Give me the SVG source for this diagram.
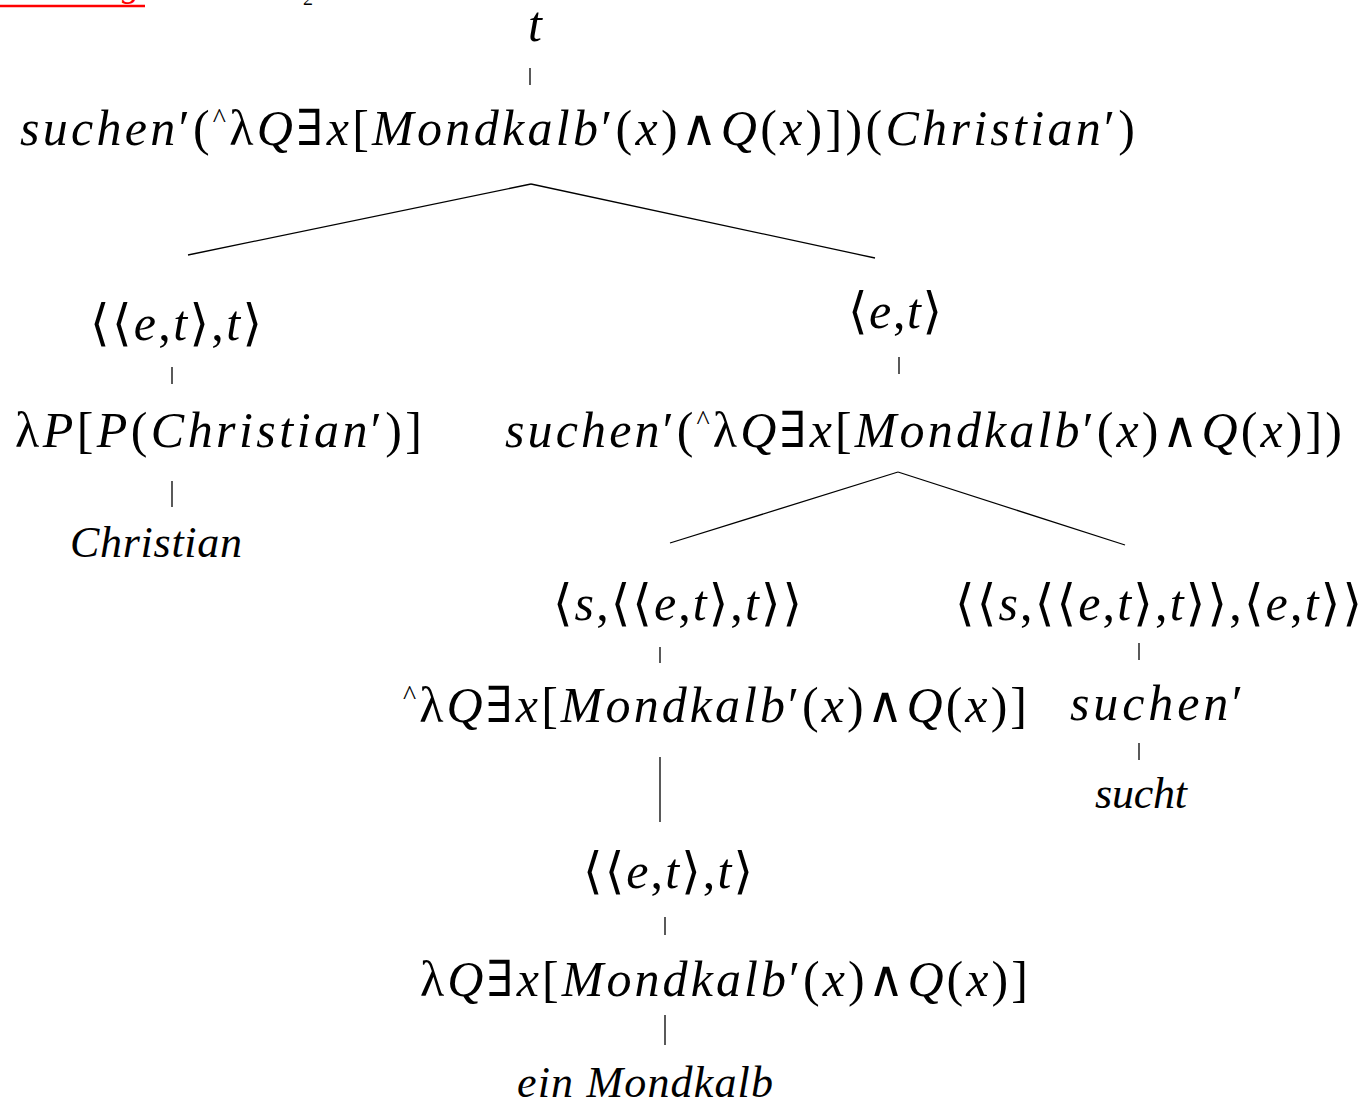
<svg xmlns="http://www.w3.org/2000/svg" width="1368" height="1104" viewBox="0 0 1368 1104">
<style>
text{font-family:"Liberation Serif","DejaVu Serif",serif;font-size:50px;fill:#000}
.i{font-style:italic}
.u{font-style:normal}
.c{font-style:normal;font-size:28px}
.s{font-style:italic;font-size:44px}
.e line{stroke:#000;stroke-width:1.3}
</style>
<rect width="1368" height="1104" fill="#fff"/>
<g id="header">
<line x1="0" y1="6" x2="145" y2="6" stroke="#f00" stroke-width="2.5"/>
<text x="122" y="-4" style="font-size:36px;font-style:italic;fill:#f00">g</text>
<text x="303" y="5" style="font-size:20px">2</text>
</g>
<g id="n-t"><text x="535" y="41" text-anchor="middle" class="i">t</text></g>
<g id="n-root"><text x="20" y="145" textLength="1115" class="i">suchen<tspan class="u">′(</tspan><tspan class="c" dy="-18">^</tspan><tspan class="u" dy="18">λ</tspan>Q<tspan class="u">∃</tspan>x<tspan class="u">[</tspan>Mondkalb<tspan class="u">′(</tspan>x<tspan class="u">)∧</tspan>Q<tspan class="u">(</tspan>x<tspan class="u">)])(</tspan>Christian<tspan class="u">′)</tspan></text></g>
<g id="n-left-type"><text x="90" y="340" textLength="172" class="u">⟨⟨<tspan class="i">e</tspan>,<tspan class="i">t</tspan>⟩,<tspan class="i">t</tspan>⟩</text></g>
<g id="n-right-type"><text x="848" y="328" textLength="94" class="u">⟨<tspan class="i">e</tspan>,<tspan class="i">t</tspan>⟩</text></g>
<g id="n-left-sem"><text x="15" y="447" textLength="407" class="u">λ<tspan class="i">P</tspan>[<tspan class="i">P</tspan>(<tspan class="i">Christian</tspan>′)]</text></g>
<g id="n-right-sem"><text x="505" y="447" textLength="837" class="i">suchen<tspan class="u">′(</tspan><tspan class="c" dy="-18">^</tspan><tspan class="u" dy="18">λ</tspan>Q<tspan class="u">∃</tspan>x<tspan class="u">[</tspan>Mondkalb<tspan class="u">′(</tspan>x<tspan class="u">)∧</tspan>Q<tspan class="u">(</tspan>x<tspan class="u">)])</tspan></text></g>
<g id="n-christian"><text x="70" y="557" textLength="172" class="s">Christian</text></g>
<g id="n-np-type"><text x="553" y="620" textLength="249" class="u">⟨<tspan class="i">s</tspan>,⟨⟨<tspan class="i">e</tspan>,<tspan class="i">t</tspan>⟩,<tspan class="i">t</tspan>⟩⟩</text></g>
<g id="n-v-type"><text x="955" y="620" textLength="407" class="u">⟨⟨<tspan class="i">s</tspan>,⟨⟨<tspan class="i">e</tspan>,<tspan class="i">t</tspan>⟩,<tspan class="i">t</tspan>⟩⟩,⟨<tspan class="i">e</tspan>,<tspan class="i">t</tspan>⟩⟩</text></g>
<g id="n-np-sem"><text x="403" y="722" textLength="624" class="u"><tspan class="c" dy="-18">^</tspan><tspan dy="18">λ</tspan><tspan class="i">Q</tspan>∃<tspan class="i">x</tspan>[<tspan class="i">Mondkalb</tspan>′(<tspan class="i">x</tspan>)∧<tspan class="i">Q</tspan>(<tspan class="i">x</tspan>)]</text></g>
<g id="n-v-sem"><text x="1070" y="720" textLength="173" class="i">suchen<tspan class="u">′</tspan></text></g>
<g id="n-sucht"><text x="1095" y="808" textLength="92" class="s">sucht</text></g>
<g id="n-det-type"><text x="583" y="888" textLength="170" class="u">⟨⟨<tspan class="i">e</tspan>,<tspan class="i">t</tspan>⟩,<tspan class="i">t</tspan>⟩</text></g>
<g id="n-det-sem"><text x="420" y="996" textLength="608" class="u">λ<tspan class="i">Q</tspan>∃<tspan class="i">x</tspan>[<tspan class="i">Mondkalb</tspan>′(<tspan class="i">x</tspan>)∧<tspan class="i">Q</tspan>(<tspan class="i">x</tspan>)]</text></g>
<g id="n-ein"><text x="517" y="1097" textLength="256" class="s">ein Mondkalb</text></g>
<g id="edges" class="e">
<line x1="530" y1="68" x2="530" y2="85"/>
<line x1="531" y1="184" x2="188" y2="255"/>
<line x1="531" y1="184" x2="875" y2="258"/>
<line x1="172" y1="367" x2="172" y2="384"/>
<line x1="899" y1="357" x2="899" y2="374"/>
<line x1="172" y1="481" x2="172" y2="507"/>
<line x1="898" y1="472" x2="670" y2="543"/>
<line x1="898" y1="472" x2="1125" y2="545"/>
<line x1="660" y1="647" x2="660" y2="663"/>
<line x1="1139" y1="643" x2="1139" y2="660"/>
<line x1="660" y1="757" x2="660" y2="822"/>
<line x1="1139" y1="743" x2="1139" y2="760"/>
<line x1="665" y1="917" x2="665" y2="935"/>
<line x1="665" y1="1015" x2="665" y2="1045"/>
</g>
</svg>
